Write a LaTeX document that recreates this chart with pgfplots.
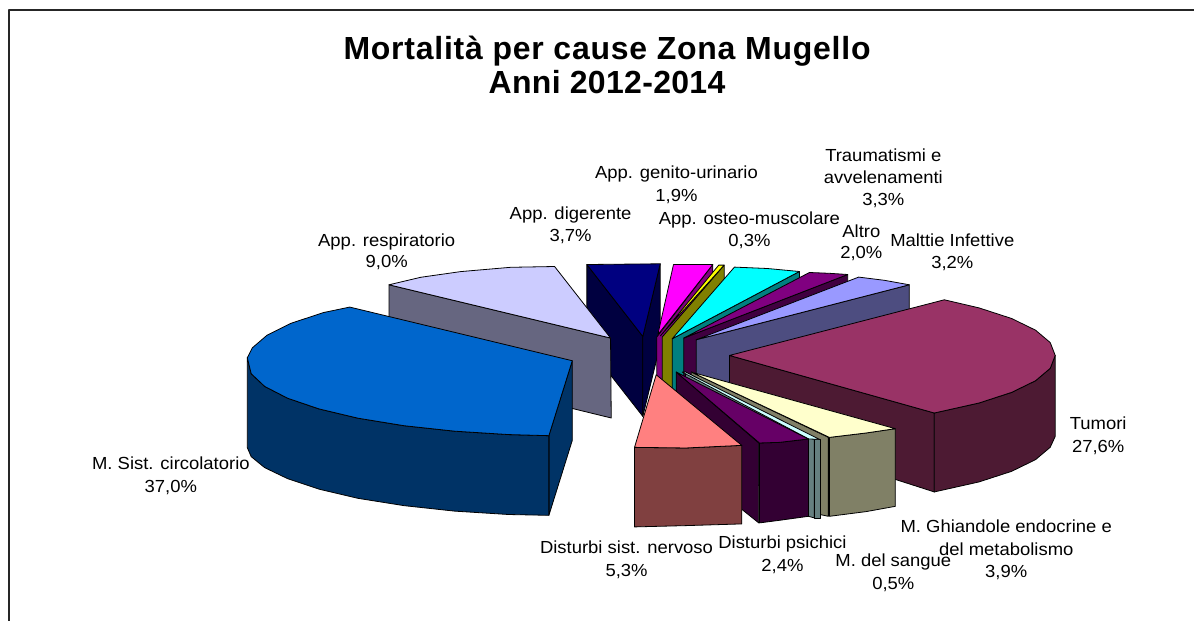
\documentclass[border=0pt]{standalone}
\usepackage{pgfplots}
\pgfplotsset{compat=1.18}
\usepackage{fontspec}
\setmainfont[FakeStretch=1.055]{Liberation Sans}
\newfontfamily\titlefontA[LetterSpace=2.4]{Liberation Sans}
\newfontfamily\titlefontB[LetterSpace=1]{Liberation Sans}
\definecolor{cBlue}{HTML}{0066CC}\definecolor{cBlueW}{HTML}{003366}
\definecolor{cLav}{HTML}{CCCCFF}\definecolor{cLavW}{HTML}{666680}
\definecolor{cNavy}{HTML}{000080}\definecolor{cNavyW}{HTML}{000040}
\definecolor{cMag}{HTML}{FF00FF}\definecolor{cMagW}{HTML}{800080}
\definecolor{cYel}{HTML}{FFFF00}\definecolor{cYelW}{HTML}{808000}
\definecolor{cCya}{HTML}{00FFFF}\definecolor{cCyaW}{HTML}{008080}
\definecolor{cPur}{HTML}{800080}\definecolor{cPurW}{HTML}{400040}
\definecolor{cPer}{HTML}{9999FF}\definecolor{cPerW}{HTML}{4D4D80}
\definecolor{cTum}{HTML}{993366}\definecolor{cTumW}{HTML}{4D1A33}
\definecolor{cCre}{HTML}{FFFFCC}\definecolor{cCreW}{HTML}{808066}
\definecolor{cStr}{HTML}{CCFFFF}\definecolor{cStrW}{HTML}{668080}
\definecolor{cPsi}{HTML}{660066}\definecolor{cPsiW}{HTML}{330033}
\definecolor{cPin}{HTML}{FF8080}\definecolor{cPinW}{HTML}{804040}
\newcommand{\lbl}[3]{\node[anchor=base,inner sep=0pt,font=\fontsize{17.5}{20}\selectfont] at (axis cs:#1,#2+6.8) {#3};}
\begin{document}
\begin{tikzpicture}
\begin{axis}[
  width=1195pt,height=621pt,scale only axis,
  xmin=0,xmax=1195,ymin=0,ymax=621,y dir=reverse,
  hide axis,clip=false,
  every axis plot/.append style={line width=0.8pt,draw=black,line join=round}]
% canvas and frame
\addplot[fill=white,draw=none] coordinates {(0,0)(1195,0)(1195,621)(0,621)} --cycle;
\addplot[line width=1.8pt,color=black!85] coordinates {(9,621)(9,10)(1195,10)};
% navy
\addplot[fill=cNavyW] coordinates {(587.3,264.7)(643.3,336.7)(643.3,416.7)(587.3,345)} --cycle;
\addplot[fill=cNavyW] coordinates {(643.3,336.7)(660.7,264)(660.7,345)(643.3,416.7)} --cycle;
\addplot[fill=cNavy] coordinates {(587.3,264.7)(660.7,264)(643.3,336.7)} --cycle;
% magenta
\addplot[fill=cMagW] coordinates {(657.3,337.3)(713.3,264.7)(713.3,345)(657.3,417)} --cycle;
\addplot[fill=cMag] coordinates {(658.3,335)(674,264.7)(713.3,264.7)} --cycle;
% yellow
\addplot[fill=cYelW] coordinates {(662.7,337.3)(724.7,265.3)(724.7,345)(662.7,417)} --cycle;
\addplot[fill=cYel] coordinates {(661,336)(719.3,265.3)(724.7,265.3)} --cycle;
% cyan
\addplot[fill=cCyaW] coordinates {(672.7,339)(800,271.7)(800,351)(672.7,418)} --cycle;
\addplot[fill=cCya] coordinates {(672.7,339)(735,267.3)(768,268.7)(800,271.7)} --cycle;
% purple
\addplot[fill=cPurW] coordinates {(684.3,338.3)(848.3,274.7)(848.3,354)(684.3,418)} --cycle;
\addplot[fill=cPur] coordinates {(684.3,338.3)(810,272.7)(830,273.5)(848.3,274.7)} --cycle;
% periwinkle
\addplot[fill=cPerW] coordinates {(696.7,340)(910,285)(910,364)(696.7,419)} --cycle;
\addplot[fill=cPer] coordinates {(696.7,340)(859.3,277.3)(885,280.5)(910,285)} --cycle;
% tumori
\addplot[fill=cTumW] coordinates {(730,355.7)(935,413.3)(935,492.3)(896.7,480)(730,430)} --cycle;
\addplot[fill=cTumW] coordinates {(935,413.3)(979.7,403.3)(1012.3,392.7)(1036.3,381)(1051,368.6)(1056,355.7)(1056,436.7)(1051,447.6)(1036.3,460)(1012.3,471.7)(979.7,482.3)(935,492.3)} --cycle;
\addplot[fill=cTum] coordinates {(730,355.7)(945,300)(979.7,308.1)(1012.3,318.7)(1036.3,330.4)(1051,342.8)(1056,355.7)(1051,368.6)(1036.3,381)(1012.3,392.7)(979.7,403.3)(935,413.3)} --cycle;
% lavender
\addplot[fill=cLavW] coordinates {(389.3,285)(611,338.3)(611.7,418.3)(389.3,364)} --cycle;
\addplot[fill=cLav] coordinates {(389.3,285)(421,277.5)(461,271.8)(511,267.5)(555,266.7)(611,338.3)} --cycle;
% blue
\addplot[fill=cBlueW] coordinates {(549.3,436)(572.7,361)(572.7,440.7)(549.3,515.7)} --cycle;
\addplot[fill=cBlueW] coordinates {(247.5,358)(251.4,374)(264.9,386.7)(287.8,398.5)(319.2,409.2)(358.3,418.5)(404.2,426)(455,431.5)(509.2,434.9)(549.3,436)(549.3,515.7)(509.2,514.9)(455,511.5)(404.2,506)(358.3,498.7)(319.2,489.5)(287.8,479)(264.9,468)(251.4,457)(247.5,448)} --cycle;
\addplot[fill=cBlue] coordinates {(572.7,361)(350,307.3)(323.7,312.8)(291.3,323.5)(267.3,335.4)(252.6,348)(247.5,358)(251.4,374)(264.9,386.7)(287.8,398.5)(319.2,409.2)(358.3,418.5)(404.2,426)(455,431.5)(509.2,434.9)(549.3,436)} --cycle;
% cream inner wall, blood strips, psichici
\addplot[fill=cCreW] coordinates {(691.7,372.3)(829,437.7)(829,516.7)(821,515)(691.7,440)} --cycle;
\addplot[fill=cStrW] coordinates {(686,372.3)(815,439.7)(815,518.3)(809,516.7)(686,440)} --cycle;
\addplot[fill=cStrW] coordinates {(815,439.7)(821,439.7)(821,518.3)(815,518.3)} --cycle;
\addplot[fill=cStr] coordinates {(682.7,372.3)(809.3,439.3)(820,439.7)(686,372.3)} --cycle;
\addplot[fill=cPsiW] coordinates {(676.7,372.3)(759.3,443.3)(759.3,523.3)(742.7,510)(676.7,440)} --cycle;
\addplot[fill=cPsiW] coordinates {(760,443.3)(780,442.7)(809,439.3)(809,516.7)(780,520.7)(760,523.3)} --cycle;
\addplot[fill=cPsi] coordinates {(676.7,372.3)(760,443.3)(780,442.7)(809,439.3)} --cycle;
% cream front
\addplot[fill=cCreW] coordinates {(830,437.7)(866.7,433.3)(896,429)(896,506.7)(866.7,512)(830,516.7)} --cycle;
\addplot[fill=cCre] coordinates {(691.7,372.3)(896,429)(866.7,433.3)(830,437.7)} --cycle;
% pink
\addplot[fill=cPinW] coordinates {(635,447.7)(686.7,448.3)(742.3,445.7)(742.3,524.3)(686.7,526)(635,527.3)} --cycle;
\addplot[fill=cPin] coordinates {(656.7,375)(742.3,445.7)(686.7,448.3)(635,447.7)} --cycle;
% title
\node[anchor=base,inner sep=0pt,font=\fontsize{32}{36}\selectfont\bfseries\titlefontA] at (axis cs:607.5,59.5) {Mortalit\`a per cause Zona Mugello};
\node[anchor=base,inner sep=0pt,font=\fontsize{32}{36}\selectfont\bfseries\titlefontB] at (axis cs:607.5,94) {Anni 2012-2014};
% labels
\lbl{677}{172}{App. genito-urinario} \lbl{677}{195}{1,9\%}
\lbl{571}{212.5}{App. digerente} \lbl{571}{235}{3,7\%}
\lbl{750}{217.5}{App. osteo-muscolare} \lbl{750}{240}{0,3\%}
\lbl{862}{230.5}{Altro} \lbl{862}{252}{2,0\%}
\lbl{387}{240}{App. respiratorio} \lbl{387}{261}{9,0\%}
\lbl{884}{155}{Traumatismi e} \lbl{884}{177}{avvelenamenti} \lbl{884}{199}{3,3\%}
\lbl{953}{240}{Malttie Infettive} \lbl{953}{262}{3,2\%}
\lbl{1099}{423}{Tumori} \lbl{1099}{446}{27,6\%}
\lbl{1007}{526}{M. Ghiandole endocrine e} \lbl{1007}{549}{del metabolismo} \lbl{1007}{571.5}{3,9\%}
\lbl{894}{560.5}{M. del sangue} \lbl{894}{583}{0,5\%}
\lbl{783}{542.5}{Disturbi psichici} \lbl{783}{565.5}{2,4\%}
\lbl{627}{547.5}{Disturbi sist. nervoso} \lbl{627}{570}{5,3\%}
\lbl{171}{463}{M. Sist. circolatorio} \lbl{171}{486}{37,0\%}
\end{axis}
\end{tikzpicture}
\end{document}
